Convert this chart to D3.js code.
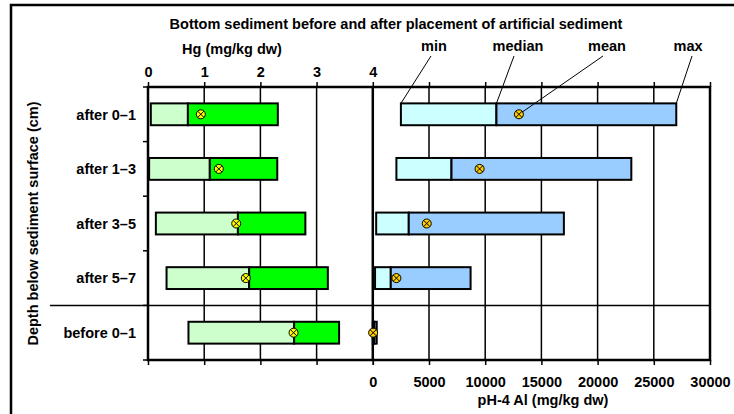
<!DOCTYPE html>
<html>
<head>
<meta charset="utf-8">
<script src="https://cdn.jsdelivr.net/npm/d3@7"></script>
<style>
  body { margin: 0; background: #fff; }
  svg text { font-family: "Liberation Sans", Arial, sans-serif; font-weight: bold; font-size: 14.5px; fill: #000; }
</style>
</head>
<body>
<svg id="chart" width="734" height="414"></svg>
<script>
// Bottom sediment before / after artificial sediment: Hg and pH-4 Al ranges

const categories = ["after 0–1", "after 1–3", "after 3–5", "after 5–7", "before 0–1"];

// Hg (mg/kg dw)
const hgMin    = [0.05, 0.02, 0.14, 0.33, 0.72];
const hgMedian = [0.71, 1.10, 1.60, 1.80, 2.60];
const hgMean   = [0.94, 1.26, 1.57, 1.74, 2.59];
const hgMax    = [2.31, 2.30, 2.80, 3.20, 3.40];

// pH-4 Al (mg/kg dw)
const alMin    = [2500, 2100, 300, 200, 0];
const alMedian = [11000, 7000, 3200, 1600, 150];
const alMean   = [13000, 9500, 4800, 2100, 30];
const alMax    = [27000, 23000, 17000, 8700, 350];

const hgTicks = [0, 1, 2, 3, 4];
const alTicks = [0, 5000, 10000, 15000, 20000, 25000, 30000];
const annotations = ["min", "median", "mean", "max"];

const svg = d3.select("#chart");

const plot = { left: 148, right: 710, top: 87, bottom: 360 };
const split = plot.left + (plot.right - plot.left) * 0.4;

const xHg = d3.scaleLinear().domain([0, 4]).range([plot.left, split]);
const xAl = d3.scaleLinear().domain([0, 30000]).range([split, plot.right]);
const y = d3.scaleBand()
  .domain(categories)
  .range([plot.top, plot.bottom])
  .paddingInner(0.6)
  .paddingOuter(0.3);

const rows = categories.map((c, i) => ({
  cat: c,
  hg: { min: hgMin[i], med: hgMedian[i], mean: hgMean[i], max: hgMax[i] },
  al: { min: alMin[i], med: alMedian[i], mean: alMean[i], max: alMax[i] }
}));

// outer frame (runs off the right / bottom edge)
svg.append("rect")
  .attr("x", 11).attr("y", 5)
  .attr("width", 760).attr("height", 440)
  .attr("fill", "none").attr("stroke", "#000").attr("stroke-width", 2.5);

// vertical gridlines
const gridX = hgTicks.slice(1, 4).map(xHg).concat(alTicks.slice(1, 6).map(xAl));
svg.append("g").selectAll("line")
  .data(gridX)
  .enter().append("line")
  .attr("x1", d => d).attr("x2", d => d)
  .attr("y1", plot.top).attr("y2", plot.bottom)
  .attr("stroke", "#000").attr("stroke-width", 1.5);

// top axis (Hg) and bottom axis (Al)
const hgTop = svg.append("g")
  .attr("transform", "translate(0," + plot.top + ")")
  .call(d3.axisTop(xHg).tickValues(hgTicks).tickSize(5).tickPadding(5).tickFormat(d3.format("d")));
const alTop = svg.append("g")
  .attr("transform", "translate(0," + plot.top + ")")
  .call(d3.axisTop(xAl).tickValues(alTicks.slice(1)).tickSize(5).tickFormat(""));
const hgBottom = svg.append("g")
  .attr("transform", "translate(0," + plot.bottom + ")")
  .call(d3.axisBottom(xHg).tickValues(hgTicks).tickSize(5).tickFormat(""));
const alBottom = svg.append("g")
  .attr("transform", "translate(0," + plot.bottom + ")")
  .call(d3.axisBottom(xAl).tickValues(alTicks).tickSize(5).tickPadding(12).tickFormat(d3.format("d")));

[hgTop, alTop, hgBottom, alBottom].forEach(g => {
  g.select(".domain").remove();
  g.selectAll(".tick line").attr("stroke", "#000").attr("stroke-width", 1.5);
  g.selectAll(".tick text").attr("font-size", null);
  g.attr("font-size", null).attr("font-family", null);
});

// left tick marks on band boundaries
const step = y.step();
const bounds = d3.range(categories.length + 1).map(i => plot.top + step * i);
svg.append("g").selectAll("line")
  .data(bounds)
  .enter().append("line")
  .attr("x1", plot.left - 5).attr("x2", plot.left)
  .attr("y1", d => d).attr("y2", d => d)
  .attr("stroke", "#000").attr("stroke-width", 1.5);

// separator between after / before
const sepY = plot.top + step * 4;
svg.append("line")
  .attr("x1", 50).attr("x2", plot.right)
  .attr("y1", sepY).attr("y2", sepY)
  .attr("stroke", "#000").attr("stroke-width", 1.5);

// plot frame
svg.append("rect")
  .attr("x", plot.left).attr("y", plot.top)
  .attr("width", plot.right - plot.left).attr("height", plot.bottom - plot.top)
  .attr("fill", "none").attr("stroke", "#000").attr("stroke-width", 2.5);
svg.append("line")
  .attr("x1", split).attr("x2", split)
  .attr("y1", plot.top).attr("y2", plot.bottom)
  .attr("stroke", "#000").attr("stroke-width", 2.5);

// bars
function drawBars(key, x, light, dark) {
  const g = svg.append("g");
  g.selectAll("rect.lo")
    .data(rows).enter().append("rect")
    .attr("x", d => x(d[key].min))
    .attr("y", d => y(d.cat))
    .attr("width", d => x(d[key].med) - x(d[key].min))
    .attr("height", y.bandwidth())
    .attr("fill", light).attr("stroke", "#000").attr("stroke-width", 2);
  g.selectAll("rect.hi")
    .data(rows).enter().append("rect")
    .attr("x", d => x(d[key].med))
    .attr("y", d => y(d.cat))
    .attr("width", d => x(d[key].max) - x(d[key].med))
    .attr("height", y.bandwidth())
    .attr("fill", dark).attr("stroke", "#000").attr("stroke-width", 2);

  // mean markers: circle with a cross
  const r = 4.5, k = r * 0.7;
  const m = g.selectAll("g.mean")
    .data(rows).enter().append("g")
    .attr("transform", d => "translate(" + x(d[key].mean) + "," + (y(d.cat) + y.bandwidth() / 2) + ")");
  m.append("circle").attr("r", r)
    .attr("fill", key === "hg" ? "#ffff00" : "#ffcc00")
    .attr("stroke", "#000").attr("stroke-width", 1);
  m.append("path")
    .attr("d", `M${-k},${-k}L${k},${k}M${-k},${k}L${k},${-k}`)
    .attr("stroke", "#000").attr("stroke-width", 1);
}
drawBars("hg", xHg, "#ccffcc", "#00ff00");
drawBars("al", xAl, "#ccffff", "#99ccff");

// category labels
svg.append("g").selectAll("text")
  .data(categories)
  .enter().append("text")
  .attr("x", plot.left - 12)
  .attr("y", d => y(d) + y.bandwidth() / 2)
  .attr("dy", "0.36em")
  .attr("text-anchor", "end")
  .text(d => d);

// axis titles
svg.append("text")
  .attr("x", 396).attr("y", 29)
  .attr("text-anchor", "middle")
  .text("Bottom sediment before and after placement of artificial sediment");
svg.append("text")
  .attr("x", 232).attr("y", 54)
  .attr("text-anchor", "middle")
  .text("Hg (mg/kg dw)");
svg.append("text")
  .attr("x", 543).attr("y", 405)
  .attr("text-anchor", "middle")
  .text("pH-4 Al (mg/kg dw)");
svg.append("text")
  .attr("transform", "translate(38," + ((plot.top + plot.bottom) / 2) + ") rotate(-90)")
  .attr("text-anchor", "middle")
  .text("Depth below sediment surface (cm)");

// min / median / mean / max callouts on the first row
const first = rows[0];
const barTop = y(first.cat);
const midY = barTop + y.bandwidth() / 2;
const callouts = [
  { lx: 434, tx: xAl(first.al.min), ty: barTop },
  { lx: 518, tx: xAl(first.al.med), ty: barTop },
  { lx: 607, tx: xAl(first.al.mean) + 3, ty: midY - 2 },
  { lx: 688, tx: xAl(first.al.max), ty: barTop }
];
annotations.forEach((a, i) => {
  const c = callouts[i];
  svg.append("text")
    .attr("x", c.lx).attr("y", 51)
    .attr("text-anchor", "middle")
    .text(a);
  svg.append("line")
    .attr("x1", c.lx + (i === 1 ? -4 : i === 2 ? -4 : i === 3 ? 4 : -3)).attr("y1", 56)
    .attr("x2", c.tx).attr("y2", c.ty)
    .attr("stroke", "#000").attr("stroke-width", 1);
});
</script>
</body>
</html>
